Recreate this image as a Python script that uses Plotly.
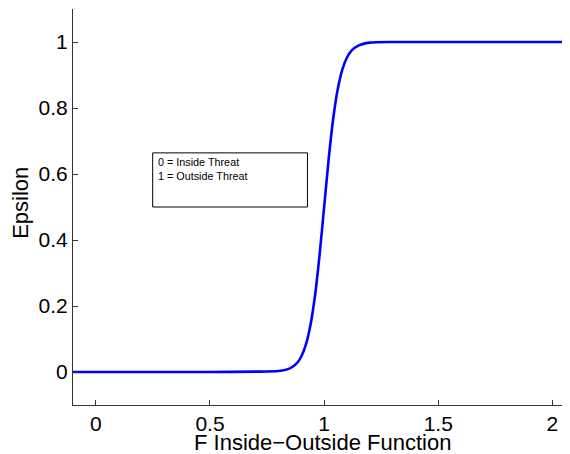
import plotly.graph_objects as go

# Curve values
x_vals = [-0.1, 0.5, 0.7, 0.8, 0.85, 0.88, 0.9, 0.92, 0.94, 0.96, 0.98, 1.0,
          1.02, 1.04, 1.06, 1.08, 1.1, 1.12, 1.15, 1.2, 1.3, 1.5, 2.1]
eps_vals = [0.0, 0.0, 0.001, 0.003, 0.011, 0.026, 0.047, 0.083, 0.142, 0.231, 0.354, 0.5,
            0.646, 0.769, 0.858, 0.917, 0.953, 0.974, 0.989, 0.998, 1.0, 1.0, 1.0]

x_ticks = [0, 0.5, 1, 1.5, 2]
x_tick_text = ["0", "0.5", "1", "1.5", "2"]
y_ticks = [0, 0.2, 0.4, 0.6, 0.8, 1]
y_tick_text = ["0", "0.2", "0.4", "0.6", "0.8", "1"]

note_lines = ["0 = Inside Threat", "1 = Outside Threat"]
x_title = "F Inside\u2212Outside Function"
y_title = "Epsilon"

FONT = "Liberation Sans, Arial, Helvetica, sans-serif"

fig = go.Figure()
fig.add_trace(go.Scatter(
    x=x_vals, y=eps_vals, mode="lines",
    line=dict(color="#0000ff", width=2.6, shape="spline", smoothing=0.6),
    showlegend=False, hoverinfo="skip",
))

# text box
fig.add_shape(type="rect", xref="x", yref="y",
              x0=0.249, x1=0.927, y0=0.5, y1=0.664,
              line=dict(color="black", width=1), fillcolor="white", layer="below")
fig.add_annotation(xref="x", yref="y", x=0.262, y=0.66,
                   xanchor="left", yanchor="top", align="left",
                   text="<br>".join(note_lines), showarrow=False,
                   font=dict(family=FONT, size=10.8, color="black"))

# axis titles
fig.add_annotation(xref="paper", yref="paper", x=0.503, y=-0.0955,
                   xanchor="center", yanchor="middle", text=x_title, showarrow=False,
                   borderpad=0,
                   font=dict(family=FONT, size=22, color="black"))
fig.add_annotation(xref="paper", yref="paper", x=-0.107, y=0.51,
                   xanchor="center", yanchor="middle", text=y_title, showarrow=False,
                   textangle=-90, font=dict(family=FONT, size=22, color="black"))

fig.update_layout(
    width=562, height=446,
    margin=dict(l=65, r=0, t=1, b=49),
    paper_bgcolor="white", plot_bgcolor="white",
    font=dict(family=FONT, color="black"),
    xaxis=dict(
        range=[-0.1, 2.077], tickvals=x_ticks, ticktext=x_tick_text,
        ticks="inside", ticklen=5, tickcolor="#333", tickwidth=1,
        showline=True, linecolor="#333", linewidth=1, mirror=False,
        showgrid=False, zeroline=False, automargin=False,
        tickfont=dict(family=FONT, size=21, color="black"),
    ),
    yaxis=dict(
        range=[-0.1, 1.1], tickvals=y_ticks, ticktext=y_tick_text,
        ticks="inside", ticklen=5, tickcolor="#333", tickwidth=1,
        showline=True, linecolor="#333", linewidth=1, mirror=False,
        showgrid=False, zeroline=False, automargin=False,
        tickfont=dict(family=FONT, size=21, color="black"),
    ),
)

fig.write_html("out.html")
